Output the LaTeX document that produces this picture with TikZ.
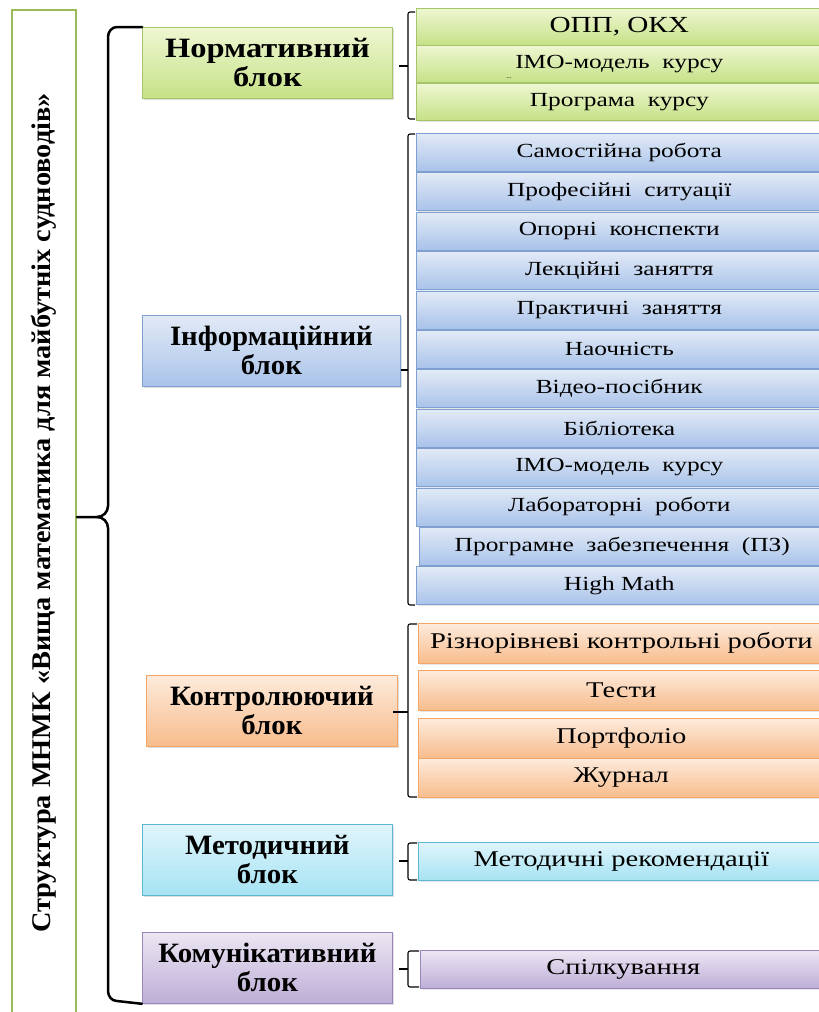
\documentclass[tikz,border=0pt]{standalone}
\usepackage{fontspec}
\setmainfont{Liberation Serif}
\newfontfamily\itemfont{Liberation Serif}[FakeStretch=1.27]
\newfontfamily\blockfont{Liberation Serif}[FakeStretch=1.03]
\newfontfamily\normfont{Liberation Serif}[FakeStretch=1.16]
\newfontfamily\titlefont{Liberation Serif}[FakeStretch=1.05]
\usetikzlibrary{shadows}

\definecolor{normtop}{HTML}{EEF7D2}
\definecolor{normbot}{HTML}{C6E187}
\definecolor{normline}{HTML}{A6C46A}
\definecolor{infotop}{HTML}{E2EAF6}
\definecolor{infobot}{HTML}{A9C3EA}
\definecolor{infoline}{HTML}{7F9FD0}
\definecolor{kontop}{HTML}{FDEBDC}
\definecolor{konbot}{HTML}{F8BC8C}
\definecolor{konline}{HTML}{F3A566}
\definecolor{mettop}{HTML}{E0F5FB}
\definecolor{metbot}{HTML}{A6E3F3}
\definecolor{metline}{HTML}{5CB8D0}
\definecolor{komtop}{HTML}{ECE6F3}
\definecolor{kombot}{HTML}{BDAED6}
\definecolor{komline}{HTML}{9A86BC}
\definecolor{titleline}{HTML}{9BBB59}

\tikzset{
  blockbox/.style={draw, line width=0.8pt, minimum width=250pt, minimum height=71pt,
    anchor=north west, inner sep=0pt, align=center,
    font=\blockfont\fontsize{28}{29}\selectfont\bfseries,
    drop shadow={opacity=0.25, shadow xshift=2pt, shadow yshift=-2pt}},
  itembox/.style={draw, line width=0.6pt, minimum width=406pt, minimum height=38pt,
    anchor=north west, inner sep=0pt, font=\itemfont\fontsize{20}{22}\selectfont,
    drop shadow={opacity=0.2, shadow xshift=1.5pt, shadow yshift=-1.5pt}},
  bigitem/.style={font=\itemfont\fontsize{22.5}{26}\selectfont},
  normfill/.style={top color=normtop, bottom color=normbot, draw=normline},
  infofill/.style={top color=infotop, bottom color=infobot, draw=infoline},
  konfill/.style={top color=kontop, bottom color=konbot, draw=konline},
  metfill/.style={top color=mettop, bottom color=metbot, draw=metline},
  komfill/.style={top color=komtop, bottom color=kombot, draw=komline},
  bigbrace/.style={line width=2.5pt, line cap=round},
  smallbrace/.style={line width=1.1pt, rounded corners=2pt}
}

\begin{document}
\begin{tikzpicture}[x=1pt, y=-1pt]
        \clip (0,0) rectangle (819,1012);
        \fill[white] (0,0) rectangle (819,1012);

        % title column
        \node[draw=titleline, line width=2pt, fill=white, rotate=90, minimum width=1006pt,
          minimum height=64pt, inner sep=0pt, font=\titlefont\fontsize{27}{30}\selectfont\bfseries]
          (mnmk) at (44,513) {Структура МНМК «Вища математика для майбутніх судноводів»};

        % blocks
        \node[blockbox, normfill, font=\normfont\fontsize{28}{29}\selectfont\bfseries] (norm) at (142,27) {Нормативний\\блок};
        \node[blockbox, infofill, minimum width=258pt] (info) at (142,315) {Інформаційний\\блок};
        \node[blockbox, konfill, minimum width=251pt] (kontr) at (146,675) {Контролюючий\\блок};
        \node[blockbox, metfill] (metod) at (142,824) {Методичний\\блок};
        \node[blockbox, komfill] (komun) at (142,932) {Комунікативний\\блок};

        % items of the normative block
        \node[itembox, normfill, minimum height=37pt, font=\itemfont\fontsize{23}{26}\selectfont] (opp) at (416,8) {ОПП, ОКХ};
        \node[itembox, normfill, minimum height=37pt] (imo) at (416,45) {ІМО-модель\ \ курсу};
        \node[itembox, normfill, minimum height=37pt] (prog) at (416,83) {Програма\ \ курсу};
        \node[font=\fontsize{7}{7}\selectfont] (dots) at (509,78) {...};

        % items of the information block
        \node[itembox, infofill] (i1) at (416,133) {Самостійна робота};
        \node[itembox, infofill] (i2) at (416,172.4) {Професійні\ \ ситуації};
        \node[itembox, infofill] (i3) at (416,211.8) {Опорні\ \ конспекти};
        \node[itembox, infofill] (i4) at (416,251.2) {Лекційні\ \ заняття};
        \node[itembox, infofill] (i5) at (416,290.6) {Практичні\ \ заняття};
        \node[itembox, infofill] (i6) at (416,330) {Наочність};
        \node[itembox, infofill] (i7) at (416,369.4) {Відео-посібник};
        \node[itembox, infofill] (i8) at (416,408.8) {Бібліотека};
        \node[itembox, infofill] (i9) at (416,448.2) {ІМО-модель\ \ курсу};
        \node[itembox, infofill] (i10) at (416,487.6) {Лабораторні\ \ роботи};
        \node[itembox, infofill] (i11) at (419,527) {Програмне\ \ забезпечення\ \ (ПЗ)};
        \node[itembox, infofill] (i12) at (416,566.4) {High Math};

        % items of the control block
        \node[itembox, konfill, bigitem, minimum height=40pt] (k1) at (418,623) {Різнорівневі контрольні роботи};
        \node[itembox, konfill, bigitem, minimum height=40pt] (k2) at (418,670) {Тести};
        \node[itembox, konfill, bigitem, minimum height=40pt] (k3) at (418,718) {Портфоліо};
        \node[itembox, konfill, bigitem, minimum height=39pt] (k4) at (418,758) {Журнал};

        % items of the last two blocks
        \node[itembox, metfill, bigitem] (m1) at (418,842) {Методичні рекомендації};
        \node[itembox, komfill, bigitem] (s1) at (420,950) {Спілкування};

        % big brace
        \coordinate (cusp) at (97,517);
        \draw[bigbrace] (norm.north west) -- (117,27) to[out=180,in=90] (108,37) -- (108,506)
          to[out=90+180,in=0] (cusp) -- (mnmk.south |- cusp);
        \draw[bigbrace] (cusp) to[out=0,in=90] (108,528) -- (108,991)
          to[out=-90,in=180] (117,1001) -- (komun.south west);

        % small braces
        \coordinate (normbr) at (408,66);
        \coordinate (infobr) at (408,370);
        \coordinate (kontrbr) at (408,712);
        \coordinate (metodbr) at (408,861);
        \coordinate (komunbr) at (408,969);
        \draw[smallbrace] (415,12) -- (408,12) -- (408,119) -- (415,119);
        \draw[smallbrace] (415,134) -- (408,134) -- (408,605) -- (415,605);
        \draw[smallbrace] (417,624) -- (408,624) -- (408,797) -- (417,797);
        \draw[smallbrace] (417,843) -- (408,843) -- (408,880) -- (417,880);
        \draw[smallbrace] (419,951) -- (408,951) -- (408,987) -- (419,987);
        \draw[line width=1.1pt] (normbr) -- ++(-9,0);
        \draw[line width=1.1pt] (info.east |- infobr) -- (infobr);
        \draw[line width=1.1pt] (kontrbr) -- ++(-15,0);
        \draw[line width=1.1pt] (metodbr) -- ++(-9,0);
        \draw[line width=1.1pt] (komunbr) -- ++(-9,0);
\end{tikzpicture}
\end{document}
